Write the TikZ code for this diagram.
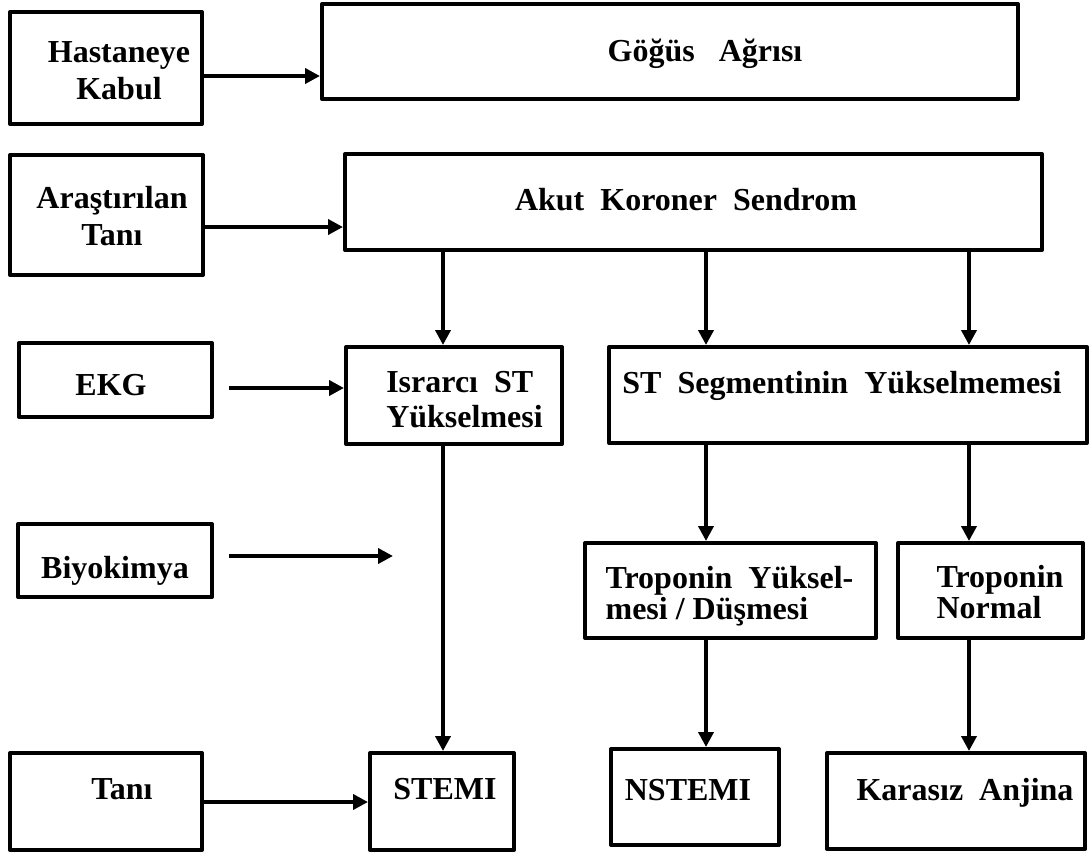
\documentclass[tikz,border=0pt]{standalone}
\usepackage{fontspec}
\setmainfont{Liberation Serif}
\usetikzlibrary{arrows.meta}
\begin{document}
\begin{tikzpicture}[x=1pt,y=-1pt,
  box/.style={draw, line width=4pt, line join=round, inner sep=0pt, rectangle},
  lbl/.style={font=\fontsize{32pt}{37pt}\selectfont\bfseries, inner sep=0pt},
  lbltight/.style={font=\fontsize{32pt}{35pt}\selectfont\bfseries, inner sep=0pt},
  lblsmall/.style={font=\fontsize{32pt}{31pt}\selectfont\bfseries, inner sep=0pt},
  arr/.style={line width=4pt, -{Triangle[length=15pt,width=15pt]}}]
\useasboundingbox (0,0) rectangle (1089,855);
% boxes
\node[box, minimum width=192pt, minimum height=112pt] (hk) at (106,68) {};
\node[box, minimum width=696pt, minimum height=95pt] (ga) at (670,51.5) {};
\node[box, minimum width=193pt, minimum height=120pt] (at) at (106.5,215) {};
\node[box, minimum width=697pt, minimum height=96pt] (aks) at (693.5,202) {};
\node[box, minimum width=193pt, minimum height=74pt] (ekg) at (115.5,380) {};
\node[box, minimum width=216pt, minimum height=97pt] (isr) at (454,395.5) {};
\node[box, minimum width=478pt, minimum height=96pt] (sts) at (848,395) {};
\node[box, minimum width=194pt, minimum height=73pt] (bio) at (115,560.5) {};
\node[box, minimum width=291pt, minimum height=95pt] (ty) at (730.5,590.5) {};
\node[box, minimum width=185pt, minimum height=95pt] (tn) at (990.5,590.5) {};
\node[box, minimum width=192pt, minimum height=97pt] (tani) at (106,801.5) {};
\node[box, minimum width=144pt, minimum height=97pt] (stemi) at (442,801.5) {};
\node[box, minimum width=168pt, minimum height=96pt] (nst) at (695,797) {};
\node[box, minimum width=258pt, minimum height=96pt] (kar) at (956,801) {};
% texts
\node[lbl, align=center] (hkt) at (119,71) {Hastaneye\\Kabul};
\node[lbl, anchor=base] (gat) at (705,61) {Göğüs\ \ \ Ağrısı};
\node[lbl, align=center] (att) at (112,216) {Araştırılan\\Tanı};
\node[lbl, anchor=base] (akst) at (686,210) {Akut\ \ Koroner\ \ Sendrom};
\node[lbl, anchor=base] (ekgt) at (111,395) {EKG};
\node[lbltight, align=left] (isrt) at (464.5,400) {Israrcı\ \ ST\\Yükselmesi};
\node[lbl, anchor=base] (stst) at (842,393) {ST\ \ Segmentinin\ \ Yükselmemesi};
\node[lbl, anchor=base] (biot) at (115,578) {Biyokimya};
\node[lblsmall, align=left] (tyt) at (729.5,596) {Troponin\ \ Yüksel-\\mesi / Düşmesi};
\node[lblsmall, align=left] (tnt) at (1000,592) {Troponin\\Normal};
\node[lbl, anchor=base] (tanit) at (122,799) {Tanı};
\node[lbl, anchor=base] (stemit) at (445,799) {STEMI};
\node[lbl, anchor=base] (nstt) at (688,800) {NSTEMI};
\node[lbl, anchor=base] (kart) at (965,800) {Karasız\ \ Anjina};
% helper coordinates
\coordinate (r1) at (0,76);
\coordinate (r2) at (0,227);
\coordinate (r3) at (0,388);
\coordinate (r4) at (0,556);
\coordinate (r5) at (0,802);
\coordinate (s0) at (443,0);
\coordinate (s1) at (706,0);
\coordinate (s2) at (969,0);
\coordinate (e0) at ([xshift=15pt]ekg.east);
\coordinate (b0) at ([xshift=15pt]bio.east);
\coordinate (bend) at (393,556);
% connectors
\draw[arr] (r1 -| hk.east) -- (r1 -| ga.west);
\draw[arr] (r2 -| at.east) -- (r2 -| aks.west);
\draw[arr] (r3 -| e0) -- (r3 -| isr.west);
\draw[arr] (r4 -| b0) -- (bend);
\draw[arr] (r5 -| tani.east) -- (r5 -| stemi.west);
\draw[arr] (s0 |- aks.south) -- (s0 |- isr.north);
\draw[arr] (s0 |- isr.south) -- (s0 |- stemi.north);
\draw[arr] (s1 |- aks.south) -- (s1 |- sts.north);
\draw[arr] (s1 |- sts.south) -- (s1 |- ty.north);
\draw[arr] (s1 |- ty.south) -- (s1 |- nst.north);
\draw[arr] (s2 |- aks.south) -- (s2 |- sts.north);
\draw[arr] (s2 |- sts.south) -- (s2 |- tn.north);
\draw[arr] (s2 |- tn.south) -- (s2 |- kar.north);
\end{tikzpicture}
\end{document}
